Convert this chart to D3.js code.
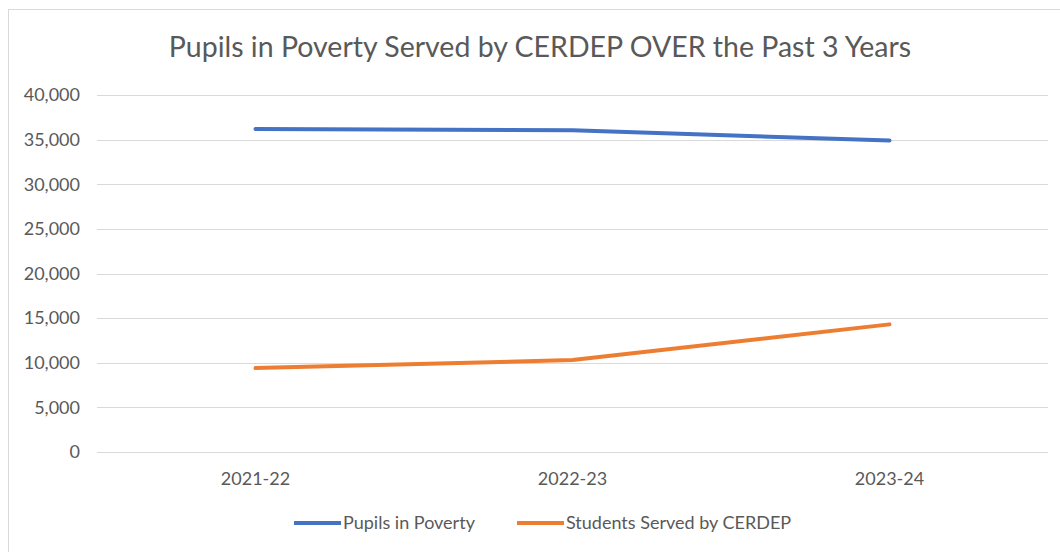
<!DOCTYPE html>
<html>
<head>
<meta charset="utf-8">
<script src="https://cdn.jsdelivr.net/npm/d3@7"></script>
<style>
  html, body { margin: 0; padding: 0; background: #fff; }
  svg { display: block; }
  text { font-family: Lato, "Open Sans", sans-serif; fill: #595959; }
</style>
</head>
<body>
<div id="chart"></div>
<script>
const title = "Pupils in Poverty Served by CERDEP OVER the Past 3 Years";
const categories = ["2021-22", "2022-23", "2023-24"];
const seriesNames = ["Pupils in Poverty", "Students Served by CERDEP"];
const pupilsInPoverty = [36200, 36050, 34900];
const studentsServed = [9400, 10300, 14300];
const yTicks = [0, 5000, 10000, 15000, 20000, 25000, 30000, 35000, 40000];
const colors = ["#4472C4", "#ED7D31"];

const W = 1060, H = 552;
const svg = d3.select("#chart").append("svg").attr("width", W).attr("height", H);

// frame
svg.append("rect").attr("x", 8.5).attr("y", 9.5).attr("width", W + 10).attr("height", H + 10)
  .attr("fill", "#fff").attr("stroke", "#d9d9d9").attr("stroke-width", 1);

const x = d3.scaleBand().domain(categories).range([97, 1048]);
const y = d3.scaleLinear().domain([0, 40000]).range([452, 95]);

// gridlines
svg.append("g").selectAll("line").data(yTicks).join("line")
  .attr("x1", 97).attr("x2", 1048)
  .attr("y1", d => Math.round(y(d)) + 0.5).attr("y2", d => Math.round(y(d)) + 0.5)
  .attr("stroke", "#d9d9d9").attr("stroke-width", 1);

// y axis labels
const fmt = d3.format(",");
svg.append("g").selectAll("text").data(yTicks).join("text")
  .attr("x", 80).attr("y", d => y(d)).attr("dy", "0.35em")
  .attr("text-anchor", "end").style("font-size", "18px")
  .text(d => fmt(d));

// x axis labels
svg.append("g").selectAll("text").data(categories).join("text")
  .attr("x", d => x(d) + x.bandwidth() / 2).attr("y", 479).attr("dy", "0.35em")
  .attr("text-anchor", "middle").style("font-size", "18px")
  .text(d => d);

// title
svg.append("text").attr("x", 540).attr("y", 47).attr("dy", "0.35em")
  .attr("text-anchor", "middle").style("font-size", "28.5px")
  .text(title);

// lines
const line = d3.line()
  .x((d, i) => x(categories[i]) + x.bandwidth() / 2)
  .y(d => y(d));

[pupilsInPoverty, studentsServed].forEach((s, k) => {
  svg.append("path").datum(s).attr("d", line)
    .attr("fill", "none").attr("stroke", colors[k])
    .attr("stroke-width", 4).attr("stroke-linecap", "round").attr("stroke-linejoin", "round");
});

// legend
const legend = [
  { name: seriesNames[0], color: colors[0], x: 294 },
  { name: seriesNames[1], color: colors[1], x: 517 }
];
const lg = svg.append("g").selectAll("g").data(legend).join("g")
  .attr("transform", d => `translate(${d.x},523)`);
lg.append("line").attr("x1", 0).attr("x2", 47).attr("y1", 0).attr("y2", 0)
  .attr("stroke", d => d.color).attr("stroke-width", 4);
lg.append("text").attr("x", 49).attr("y", 0).attr("dy", "0.35em")
  .style("font-size", "18px").text(d => d.name);
</script>
</body>
</html>
